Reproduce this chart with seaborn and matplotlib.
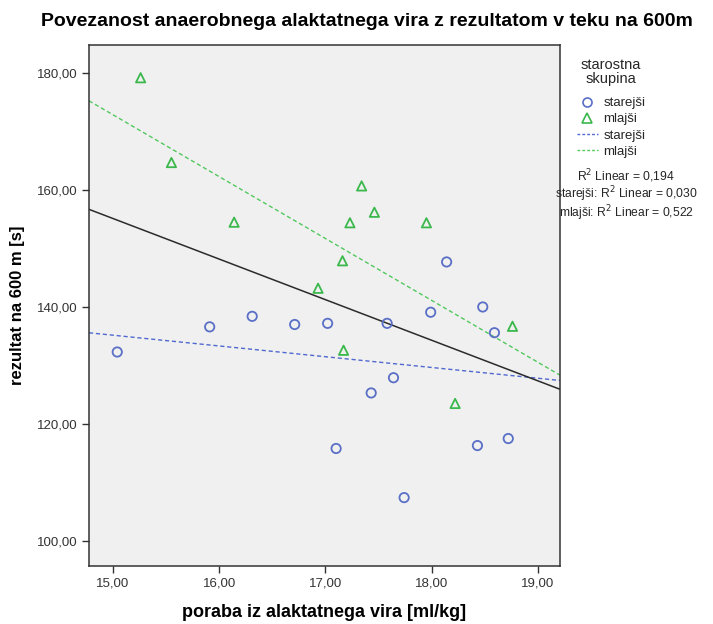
# Scatter with linear fit lines per age group (SPSS style)
import pandas as pd
import matplotlib
matplotlib.use('Agg')
import matplotlib.pyplot as plt
import seaborn as sns
from matplotlib.lines import Line2D
from matplotlib.ticker import FuncFormatter

# data
starejsi_x = [15.04, 15.91, 16.31, 16.71, 17.02, 17.10, 17.43, 17.58, 17.64, 17.74,
              17.99, 18.14, 18.43, 18.48, 18.59, 18.72]
starejsi_y = [132.3, 136.6, 138.4, 137.0, 137.2, 115.8, 125.3, 137.2, 127.9, 107.4,
              139.1, 147.7, 116.3, 140.0, 135.6, 117.5]
mlajsi_x = [15.26, 15.55, 16.14, 16.93, 17.16, 17.17, 17.23, 17.34, 17.46, 17.95,
            18.22, 18.76]
mlajsi_y = [179.2, 164.7, 154.5, 143.2, 147.9, 132.6, 154.4, 160.7, 156.2, 154.4,
            123.5, 136.7]
groups = ['starejši', 'mlajši']
r2_labels = ['R$^2$ Linear = 0,194', 'starejši: R$^2$ Linear = 0,030',
             'mlajši: R$^2$ Linear = 0,522']

df = pd.concat([
    pd.DataFrame({'x': starejsi_x, 'y': starejsi_y, 'skupina': 'starejši'}),
    pd.DataFrame({'x': mlajsi_x, 'y': mlajsi_y, 'skupina': 'mlajši'}),
], ignore_index=True)

colors = {'starejši': '#5a6fc6', 'mlajši': '#3bb84c'}
line_colors = {'starejši': '#5068d0', 'mlajši': '#52c85e'}
markers = {'starejši': 'o', 'mlajši': '^'}

sns.set_style('ticks')
plt.rcParams['font.family'] = ['Liberation Sans', 'DejaVu Sans']

fig = plt.figure(figsize=(7.13, 6.24), dpi=100)
ax = fig.add_axes([0.1248, 0.0929, 0.6606, 0.835])
ax.set_facecolor('#f0f0f0')
ax.set_xlim(14.774, 19.207)
ax.set_ylim(95.7, 184.8)

for g in groups:
    sub = df[df['skupina'] == g]
    sns.regplot(data=sub, x='x', y='y', ax=ax, scatter=False, ci=None, truncate=False,
                line_kws=dict(color=line_colors[g], ls=(0, (3, 2)), lw=1.0))
sns.regplot(data=df, x='x', y='y', ax=ax, scatter=False, ci=None, truncate=False,
            line_kws=dict(color='#2b2b2b', lw=1.1))

for g in groups:
    sub = df[df['skupina'] == g]
    sns.scatterplot(data=sub, x='x', y='y', ax=ax, marker=markers[g], s=45,
                    facecolor='none', edgecolor=colors[g], linewidth=1.3, zorder=3)

ax.set_xticks([15, 16, 17, 18, 19])
ax.set_yticks([100, 120, 140, 160, 180])
fmt = FuncFormatter(lambda v, p: f'{v:.2f}'.replace('.', ','))
ax.xaxis.set_major_formatter(fmt)
ax.yaxis.set_major_formatter(fmt)
ax.tick_params(labelsize=9.5, labelcolor='#333333', length=5, width=1.0, color='#333333')
for s in ax.spines.values():
    s.set_visible(True)
    s.set_color('#333333')
    s.set_linewidth(1.1)

ax.set_xlabel('poraba iz alaktatnega vira [ml/kg]', fontsize=13, fontweight='bold',
              labelpad=10, color='black')
ax.set_ylabel('rezultat na 600 m [s]', fontsize=12, fontweight='bold', labelpad=8,
              color='black')
fig.text(0.515, 0.965, 'Povezanost anaerobnega alaktatnega vira z rezultatom v teku na 600m',
         ha='center', va='center', fontsize=14, fontweight='bold', color='black')

handles = [
    Line2D([], [], ls='none', marker='o', mfc='none', mec=colors['starejši'], mew=1.2, ms=6.5),
    Line2D([], [], ls='none', marker='^', mfc='none', mec=colors['mlajši'], mew=1.2, ms=6.5),
    Line2D([], [], ls=(0, (2, 1.5)), color=line_colors['starejši'], lw=1.0),
    Line2D([], [], ls=(0, (2, 1.5)), color=line_colors['mlajši'], lw=1.0),
]
leg = fig.legend(handles, groups + groups, title='starostna\nskupina', loc='upper left',
                 bbox_to_anchor=(0.798, 0.92), frameon=False, fontsize=9.5,
                 title_fontsize=10.5, handlelength=1.6, handletextpad=0.4,
                 labelspacing=0.3, borderaxespad=0.2)
leg.get_title().set_multialignment('center')
leg.get_title().set_linespacing(1.0)
leg._legend_box.sep = 8

ys = [0.717, 0.688, 0.659]
for t, yy in zip(r2_labels, ys):
    fig.text(0.878, yy, t, ha='center', va='center', fontsize=8.7)

fig.savefig('out.png', dpi=100)
